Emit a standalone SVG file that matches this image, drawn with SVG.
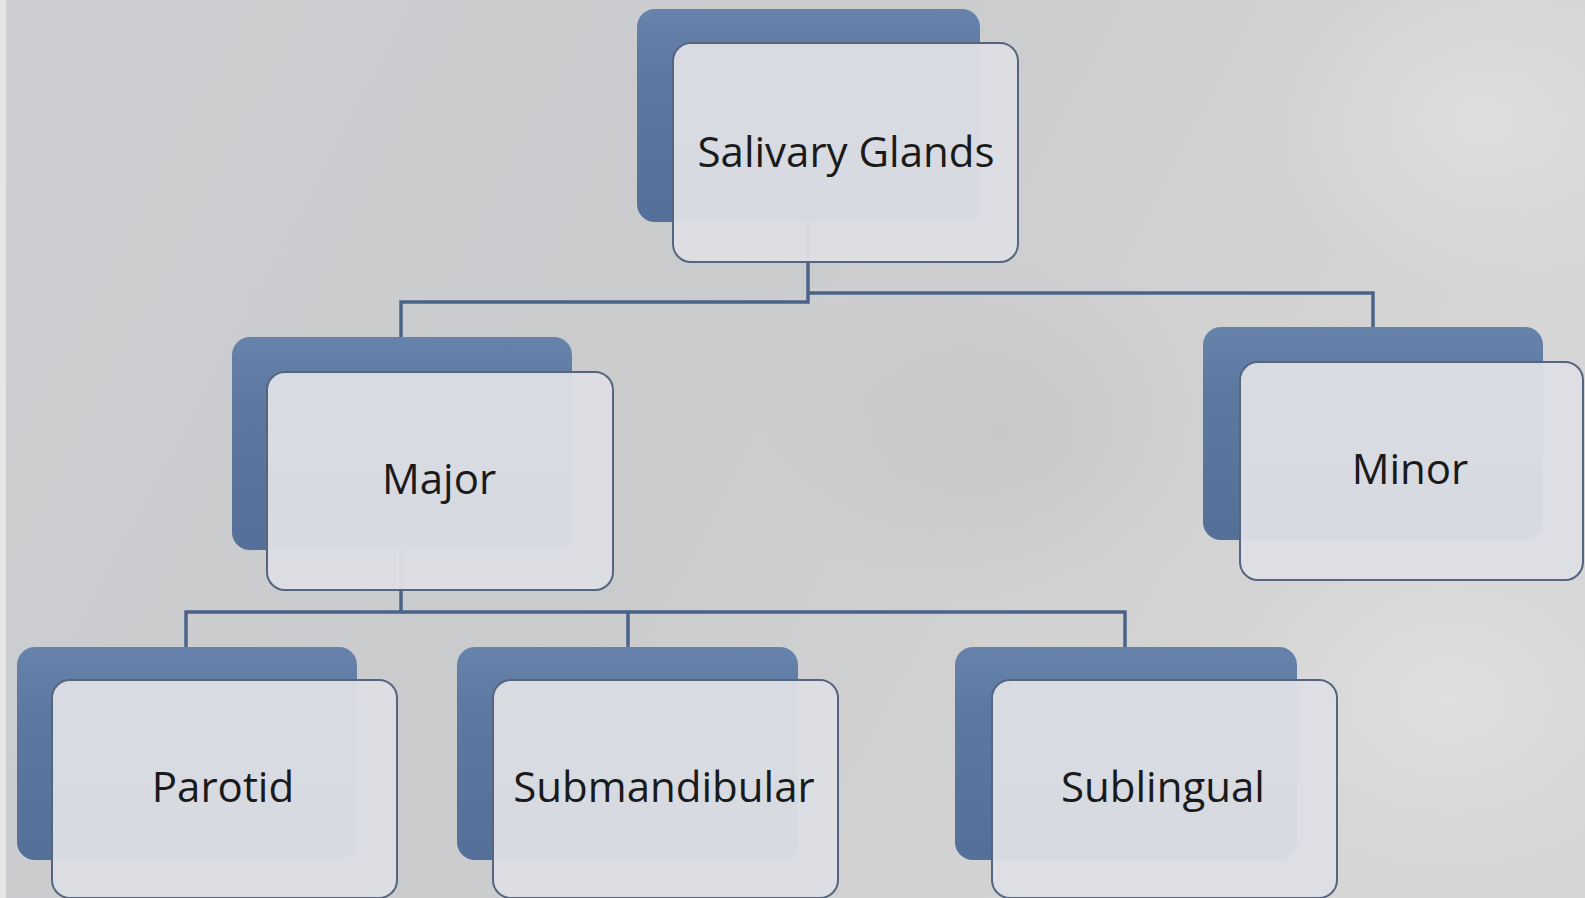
<svg xmlns="http://www.w3.org/2000/svg" width="1585" height="898" viewBox="0 0 1585 898">
<style>
.back{fill:url(#blueGrad);}
.front{fill:#dedfe4;fill-opacity:0.96;stroke:#56657f;stroke-width:2;}
.lbl{font-family:"Open Sans","Liberation Sans",sans-serif;font-size:42px;fill:#1a1a1a;text-anchor:middle;}
.conn{fill:none;stroke:#4b6389;stroke-width:3.5;}
</style>
<defs>
<linearGradient id="blueGrad" x1="0" y1="0" x2="0" y2="1">
<stop offset="0" stop-color="#6883ab"/>
<stop offset="0.3" stop-color="#5d79a1"/>
<stop offset="1" stop-color="#557098"/>
</linearGradient>
<linearGradient id="bg" x1="0" y1="0" x2="1" y2="0.3">
<stop offset="0" stop-color="#cdced1"/>
<stop offset="0.5" stop-color="#cacbcd"/>
<stop offset="1" stop-color="#d6d6d6"/>
</linearGradient>
<radialGradient id="lite"><stop offset="0" stop-color="#e2e2e2" stop-opacity="0.7"/><stop offset="1" stop-color="#e2e2e2" stop-opacity="0"/></radialGradient>
<radialGradient id="dark"><stop offset="0" stop-color="#bfc0c2" stop-opacity="0.5"/><stop offset="1" stop-color="#bfc0c2" stop-opacity="0"/></radialGradient>
</defs>
<rect x="0" y="0" width="1585" height="898" fill="url(#bg)"/>
<ellipse cx="1480" cy="120" rx="220" ry="170" fill="url(#lite)"/>
<ellipse cx="1000" cy="430" rx="240" ry="180" fill="url(#dark)"/>
<ellipse cx="1450" cy="700" rx="220" ry="170" fill="url(#lite)"/>
<rect x="0" y="0" width="6" height="898" fill="#e6e6e6"/>

<g id="connectors">
<path class="conn" d="M808,222 V302 H401 V337"/>
<path class="conn" d="M808,293 H1373 V327"/>
<path class="conn" d="M401,550 V612 H186 V647"/>
<path class="conn" d="M401,612 H628 V647"/>
<path class="conn" d="M628,612 H1125 V647"/>
</g>

<g id="salivary-glands">
<rect class="back" x="637" y="9" width="343" height="213" rx="18"/>
<rect class="front" x="673" y="43" width="345" height="219" rx="18"/>
<text class="lbl" x="846" y="167">Salivary Glands</text>
</g>
<g id="major">
<rect class="back" x="232" y="337" width="340" height="213" rx="18"/>
<rect class="front" x="267" y="372" width="346" height="218" rx="18"/>
<text class="lbl" x="439" y="494">Major</text>
</g>
<g id="minor">
<rect class="back" x="1203" y="327" width="340" height="213" rx="18"/>
<rect class="front" x="1240" y="362" width="343" height="218" rx="18"/>
<text class="lbl" x="1410" y="484">Minor</text>
</g>
<g id="parotid">
<rect class="back" x="17" y="647" width="340" height="213" rx="18"/>
<rect class="front" x="52" y="680" width="345" height="218" rx="18"/>
<text class="lbl" x="223" y="802">Parotid</text>
</g>
<g id="submandibular">
<rect class="back" x="457" y="647" width="341" height="213" rx="18"/>
<rect class="front" x="493" y="680" width="345" height="218" rx="18"/>
<text class="lbl" x="664" y="802">Submandibular</text>
</g>
<g id="sublingual">
<rect class="back" x="955" y="647" width="342" height="213" rx="18"/>
<rect class="front" x="992" y="680" width="345" height="218" rx="18"/>
<text class="lbl" x="1163" y="802">Sublingual</text>
</g>
</svg>
